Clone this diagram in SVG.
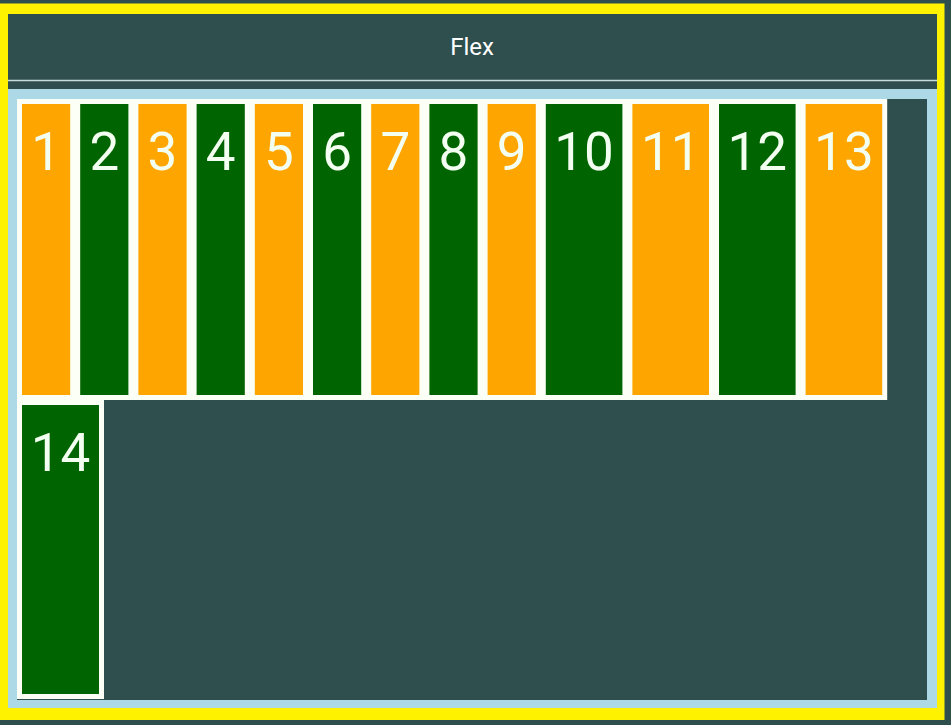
<svg xmlns="http://www.w3.org/2000/svg" width="951" height="725" viewBox="0 0 951 725">
<style>
.w{fill:#FBFFF5}
.o{fill:#FFA500}
.g{fill:#006400}
.n{font-family:Roboto,"Liberation Sans",sans-serif;font-weight:400;font-size:53px;fill:#F3FFF0;text-anchor:middle}
.t{font-family:Roboto,"Liberation Sans",sans-serif;font-size:24px;fill:#FFFFFF;text-anchor:middle}
</style>
<rect x="0" y="0" width="951" height="725" fill="#2F4F4F"/>
<rect x="0" y="3.5" width="944.5" height="716.5" fill="#FFF200"/>
<g id="header">
<rect x="8" y="14" width="929" height="75" fill="#2F4F4F"/>
<line x1="8" y1="80.5" x2="937" y2="80.5" stroke="#C9DCDC" stroke-width="1.5"/>
<text class="t" x="472" y="55">Flex</text>
</g>
<rect x="8" y="89" width="929" height="619" fill="#ADD8E6"/>
<rect id="container" x="17" y="99" width="910" height="601" fill="#2F4F4F"/>
<g id="item1"><rect class="w" x="17" y="99" width="59" height="301"/><rect class="o" x="22" y="104" width="48.2" height="291"/><text class="n" x="46.1" y="170">1</text></g>
<g id="item2"><rect class="w" x="75.2" y="99" width="59" height="301"/><rect class="g" x="80.2" y="104" width="48.2" height="291"/><text class="n" x="104.3" y="170">2</text></g>
<g id="item3"><rect class="w" x="133.4" y="99" width="59" height="301"/><rect class="o" x="138.4" y="104" width="48.2" height="291"/><text class="n" x="162.5" y="170">3</text></g>
<g id="item4"><rect class="w" x="191.6" y="99" width="59" height="301"/><rect class="g" x="196.6" y="104" width="48.2" height="291"/><text class="n" x="220.7" y="170">4</text></g>
<g id="item5"><rect class="w" x="249.8" y="99" width="59" height="301"/><rect class="o" x="254.8" y="104" width="48.2" height="291"/><text class="n" x="278.9" y="170">5</text></g>
<g id="item6"><rect class="w" x="308" y="99" width="59" height="301"/><rect class="g" x="313" y="104" width="48.2" height="291"/><text class="n" x="337.1" y="170">6</text></g>
<g id="item7"><rect class="w" x="366.2" y="99" width="59" height="301"/><rect class="o" x="371.2" y="104" width="48.2" height="291"/><text class="n" x="395.3" y="170">7</text></g>
<g id="item8"><rect class="w" x="424.4" y="99" width="59" height="301"/><rect class="g" x="429.4" y="104" width="48.2" height="291"/><text class="n" x="453.5" y="170">8</text></g>
<g id="item9"><rect class="w" x="482.6" y="99" width="59" height="301"/><rect class="o" x="487.6" y="104" width="48.2" height="291"/><text class="n" x="511.7" y="170">9</text></g>
<g id="item10"><rect class="w" x="540.8" y="99" width="87.4" height="301"/><rect class="g" x="545.8" y="104" width="76.6" height="291"/><text class="n" x="584.1" y="170">10</text></g>
<g id="item11"><rect class="w" x="627.4" y="99" width="87.4" height="301"/><rect class="o" x="632.4" y="104" width="76.6" height="291"/><text class="n" x="670.7" y="170">11</text></g>
<g id="item12"><rect class="w" x="714" y="99" width="87.4" height="301"/><rect class="g" x="719" y="104" width="76.6" height="291"/><text class="n" x="757.3" y="170">12</text></g>
<g id="item13"><rect class="w" x="800.6" y="99" width="86.6" height="301"/><rect class="o" x="805.6" y="104" width="76.6" height="291"/><text class="n" x="843.9" y="170">13</text></g>
<g id="item14"><rect class="w" x="17" y="400" width="87" height="299"/><rect class="g" x="22" y="405" width="77" height="289"/><text class="n" x="60.5" y="471">14</text></g>
<g id="connectors"></g>
</svg>
